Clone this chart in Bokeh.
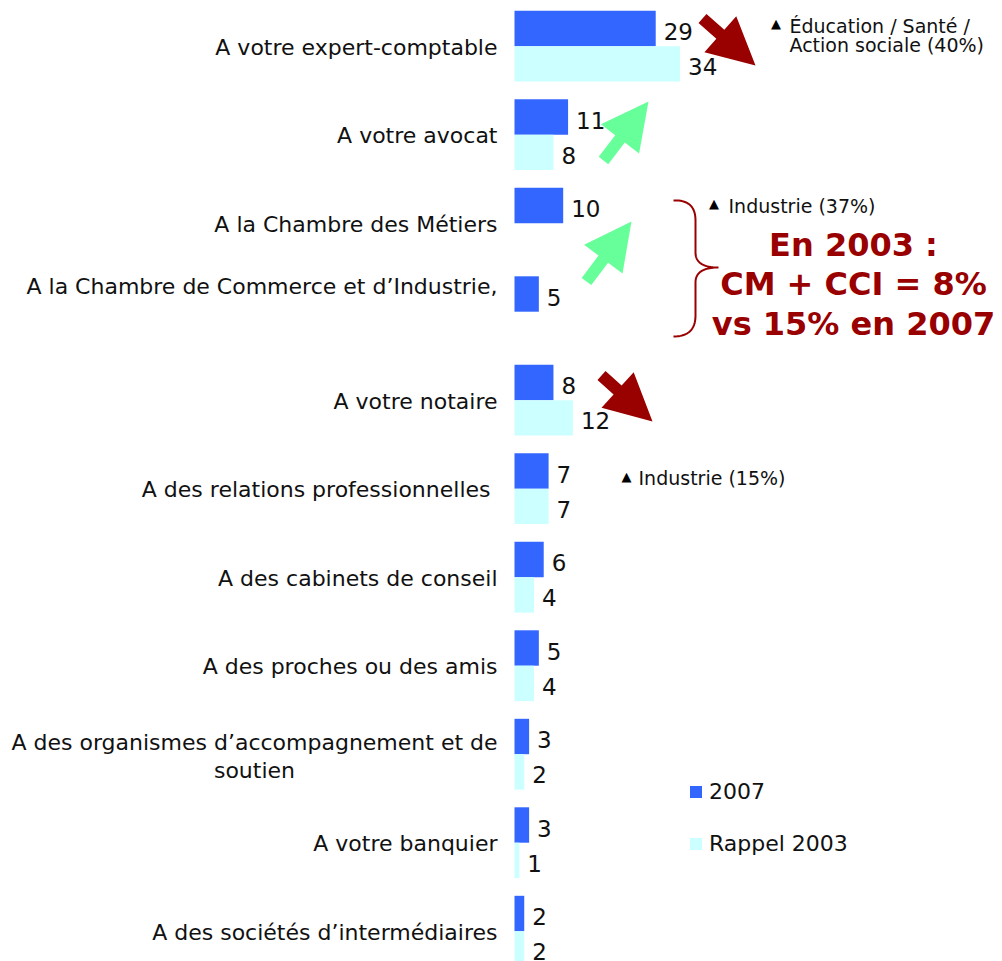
import numpy as np
from bokeh.plotting import figure
from bokeh.models import ColumnDataSource, Range1d, Legend, LegendItem
from bokeh.core.properties import value
from bokeh.embed import file_html
from bokeh.resources import INLINE

# ---------------- data ----------------
categories = [
    "A votre expert-comptable",
    "A votre avocat",
    "A la Chambre des Métiers",
    "A la Chambre de Commerce et d\u2019Industrie,",
    "A votre notaire",
    "A des relations professionnelles ",
    "A des cabinets de conseil",
    "A des proches ou des amis",
    "A des organismes d\u2019accompagnement et de\nsoutien",
    "A votre banquier",
    "A des sociétés d\u2019intermédiaires",
]
values_2007 = [29, 11, 10, 5, 8, 7, 6, 5, 3, 3, 2]
values_2003 = [34, 8, None, None, 12, 7, 4, 4, 2, 1, 2]
series_names = ["2007", "Rappel 2003"]

# ---------------- layout / scales ----------------
W, H = 1002, 961
X0, UX = 514.0, 4.87      # px of value 0, px per unit
Y0, UY = 45.7, 88.5       # px of first category centre, px per category

FONT = "DejaVu Sans"
C07, C03 = "#3366FF", "#CCFFFF"
RED, GREEN = "#990000", "#66FF99"
TXT = "#111111"

p = figure(width=W, height=H, output_backend="svg", toolbar_location=None,
           x_range=Range1d(-X0 / UX, (W - X0) / UX),
           y_range=Range1d((H - Y0) / UY, -Y0 / UY),
           x_axis_location=None, y_axis_location=None,
           min_border=0, outline_line_color=None)
p.grid.visible = False
p.background_fill_color = "white"
p.border_fill_color = "white"


def sx(px):  # picture px -> data x
    return (px - X0) / UX


def sy(py):  # picture px -> data y
    return (py - Y0) / UY


n = len(categories)
idx = np.arange(n, dtype=float)
v07 = np.array(values_2007, dtype=float)
v03 = np.array([np.nan if v is None else v for v in values_2003], dtype=float)

src07 = ColumnDataSource(dict(y=idx - 0.2, v=v07,
                              lab=[f"{int(v)}" for v in values_2007]))
src03 = ColumnDataSource(dict(y=idx + 0.2, v=v03,
                              lab=["" if v is None else f"{int(v)}" for v in values_2003]))

r07 = p.hbar(y="y", right="v", left=0, height=0.4, source=src07,
             fill_color=C07, line_color=None)
r03 = p.hbar(y="y", right="v", left=0, height=0.4, source=src03,
             fill_color=C03, line_color=None)

for s in (src07, src03):
    p.text(x="v", y="y", text="lab", source=s, x_offset=8, y_offset=3,
           text_align="left", text_baseline="middle",
           text_font=value(FONT), text_font_size="23px", text_color=TXT)

# category labels
normal = [i for i in range(n) if i not in (3, 8)]
p.text(x=0, y=[idx[i] for i in normal], text=[categories[i] for i in normal],
       x_offset=-17, y_offset=1, text_align="right", text_baseline="middle",
       text_font=value(FONT), text_font_size="22px", text_color=TXT)
p.text(x=[0], y=[idx[3]], text=[categories[3]],
       x_offset=-17, y_offset=-25, text_align="right", text_baseline="middle",
       text_font=value(FONT), text_font_size="22px", text_color=TXT)
p.text(x=[0], y=[idx[8]], text=[categories[8]],
       x_offset=-260, y_offset=2, text_align="center", text_baseline="middle",
       text_line_height=1.12,
       text_font=value(FONT), text_font_size="22px", text_color=TXT)

# ---------------- annotations ----------------
def block_arrow(tail, tip, shaft_w=12, head_w=48, head_len=47):
    tail = np.array(tail, float)
    tip = np.array(tip, float)
    d = tip - tail
    u = d / np.hypot(*d)
    nrm = np.array([-u[1], u[0]])
    base = tip - u * head_len
    pts = [tail + nrm * shaft_w / 2, base + nrm * shaft_w / 2,
           base + nrm * head_w / 2, tip, base - nrm * head_w / 2,
           base - nrm * shaft_w / 2, tail - nrm * shaft_w / 2]
    return [sx(q[0]) for q in pts], [sy(q[1]) for q in pts]


arrows = [
    ((702, 18), (755, 65), RED),
    ((603, 160), (648, 101), GREEN),
    ((586, 281), (631, 221), GREEN),
    ((601, 375), (652, 421), RED),
]
for tail, tip, col in arrows:
    xs, ys = block_arrow(tail, tip)
    p.patch(xs, ys, fill_color=col, line_color=None)


def quad(p0, c, p1, k=24):
    t = np.linspace(0, 1, k)[:, None]
    p0, c, p1 = (np.array(a, float) for a in (p0, c, p1))
    return (1 - t) ** 2 * p0 + 2 * (1 - t) * t * c + t ** 2 * p1


brace = np.vstack([
    quad((673, 200), (695, 199), (695, 220)),
    quad((695, 220), (695, 236), (695, 252)),
    quad((695, 252), (695, 267), (718, 267)),
    quad((718, 267), (695, 267), (695, 282)),
    quad((695, 282), (695, 298), (695, 315)),
    quad((695, 315), (695, 336), (673, 336)),
])
p.line([sx(q) for q in brace[:, 0]], [sy(q) for q in brace[:, 1]],
       line_color=RED, line_width=2)

p.text(x=[sx(853)], y=[sy(284)], text=["En 2003 :\nCM + CCI = 8%\nvs 15% en 2007"],
       text_align="center", text_baseline="middle", text_line_height=1.03,
       text_font=value(FONT), text_font_size="32px", text_font_style="bold",
       text_color=RED)

notes = [
    ((775.5, 23), (789, 35), "Éducation / Santé /\nAction sociale (40%)"),
    ((713.5, 203), (728, 205), "Industrie (37%)"),
    ((626, 476), (638, 477), "Industrie (15%)"),
]
for tri, pos, txt in notes:
    p.text(x=[sx(tri[0])], y=[sy(tri[1])], text=["\u25B2"],
           text_align="center", text_baseline="middle",
           text_font=value(FONT), text_font_size="13px", text_color="black")
    p.text(x=[sx(pos[0])], y=[sy(pos[1])], text=[txt],
           text_align="left", text_baseline="middle", text_line_height=0.87,
           text_font=value(FONT), text_font_size="19px", text_color=TXT)

legend = Legend(items=[LegendItem(label=series_names[0], renderers=[r07]),
                       LegendItem(label=series_names[1], renderers=[r03])],
                location=(688, 105), orientation="vertical",
                glyph_width=15, glyph_height=15, label_standoff=6,
                spacing=27, padding=0, margin=0,
                border_line_color=None, background_fill_alpha=0,
                label_text_font=FONT, label_text_font_size="22px",
                label_text_color=TXT)
p.add_layout(legend)

open("out.html", "w").write(file_html(p, INLINE))
